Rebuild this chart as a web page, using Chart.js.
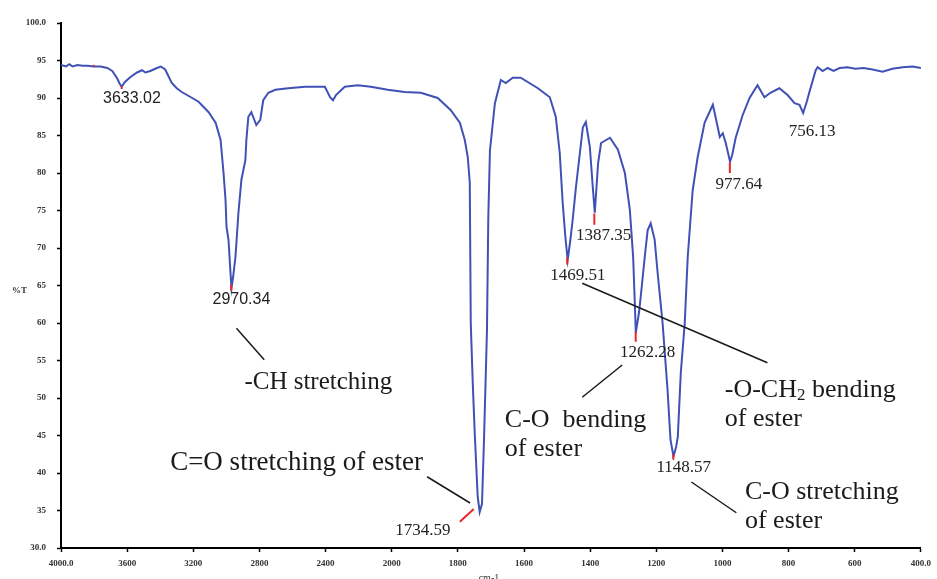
<!DOCTYPE html>
<html>
<head>
<meta charset="utf-8">
<script src="https://cdn.jsdelivr.net/npm/chart.js@4.4.1/dist/chart.umd.min.js"></script>
<style>
  body { margin: 0; background: #fff; }
  #wrap { width: 937px; height: 579px; }
</style>
</head>
<body>
<div id="wrap"><canvas id="irChart" width="937" height="579"></canvas></div>
<script>
// FTIR spectrum, wavenumber (cm-1) vs %T
var wavenumber = [
  4000, 3970, 3950, 3930, 3900, 3870, 3840, 3800, 3760, 3720,
  3690, 3660, 3645, 3633, 3615, 3580, 3540, 3510, 3490, 3460,
  3420, 3396, 3370, 3330, 3300, 3270, 3230, 3168, 3107, 3089,
  3065, 3035, 3017, 3005, 2999, 2987, 2975, 2969, 2960, 2945,
  2927, 2909, 2885, 2879, 2867, 2849, 2819, 2795, 2777, 2746,
  2704, 2626, 2524, 2404, 2373, 2355, 2337, 2284, 2205, 2127,
  2024, 1961, 1912, 1861, 1822, 1794, 1779, 1770, 1764, 1761,
  1755, 1749, 1740, 1734, 1727, 1721, 1712, 1708, 1703, 1688,
  1670, 1655, 1634, 1610, 1558, 1522, 1504, 1492, 1483, 1475,
  1468, 1460, 1453, 1443, 1431, 1422, 1413, 1401, 1392, 1386,
  1376, 1367, 1340, 1316, 1295, 1280, 1270, 1265, 1262, 1252,
  1245, 1235, 1226, 1217, 1205, 1196, 1181, 1166, 1157, 1148,
  1140, 1135, 1126, 1114, 1105, 1090, 1075, 1054, 1029, 1021,
  1008, 999, 990, 977, 970, 960, 939, 918, 894, 873,
  855, 828, 803, 782, 767, 756, 745, 737, 718, 712,
  697, 682, 664, 646, 622, 598, 573, 546, 516, 486,
  455, 425, 400
];
var transmittance = [
  94.4, 94.2, 94.5, 94.2, 94.4, 94.3, 94.3, 94.2, 94.2, 94.0,
  93.6, 92.6, 91.9, 91.5, 92.1, 92.8, 93.4, 93.7, 93.4, 93.6,
  94.0, 94.2, 93.8, 92.0, 91.3, 90.8, 90.3, 89.5, 88.1, 87.5,
  86.7, 84.4, 80.0, 76.4, 72.8, 71.1, 66.7, 64.7, 66.0, 68.8,
  74.7, 79.1, 81.7, 84.4, 87.5, 88.1, 86.4, 87.1, 89.7, 90.7,
  91.1, 91.3, 91.5, 91.5, 90.1, 89.7, 90.4, 91.5, 91.7, 91.5,
  91.1, 90.8, 90.7, 90.0, 88.4, 86.7, 84.4, 82.1, 78.7, 60.0,
  52.0, 45.3, 36.8, 34.8, 35.9, 44.4, 59.0, 74.0, 83.0, 89.3,
  92.4, 92.0, 92.7, 92.7, 91.3, 90.1, 87.5, 82.7, 76.0, 71.5,
  68.4, 71.0, 73.7, 78.1, 82.7, 86.1, 86.8, 83.5, 78.1, 74.7,
  81.3, 84.0, 84.7, 83.1, 80.0, 75.1, 68.8, 62.7, 58.7, 61.5,
  64.4, 68.8, 72.4, 73.3, 71.1, 66.7, 60.0, 51.1, 44.4, 42.2,
  43.5, 44.8, 53.3, 60.0, 68.8, 77.7, 82.1, 86.7, 89.1, 87.5,
  84.8, 85.3, 84.0, 81.5, 82.5, 84.7, 87.7, 90.0, 91.7, 90.1,
  90.7, 91.3, 90.4, 89.3, 89.1, 88.0, 89.5, 90.8, 93.7, 94.1,
  93.6, 94.0, 93.6, 94.0, 94.1, 93.9, 94.0, 93.8, 93.5, 93.9,
  94.1, 94.2, 94.0
];

// x tick positions (wavenumber), y range
var xTickWave = [4000, 3600, 3200, 2800, 2400, 2000, 1800, 1600, 1400, 1200, 1000, 800, 600, 400];
var yMin = 30, yMax = 100, yStep = 5;

// labelled peaks
var peakWave = [3633.02, 2970.34, 1734.59, 1469.51, 1387.35, 1262.28, 1148.57, 977.64, 756.13];

// band assignments
var bandText = [
  ["-CH stretching"],
  ["C=O stretching of ester"],
  ["-O-CH_2 bending", "of ester"],
  ["C-O  bending", "of ester"],
  ["C-O stretching", "of ester"]
];

// axis has a scale change at 2000 cm-1 (400 per division above, 200 below)
function toAxis(w) {
  return w >= 2000 ? (4000 - w) / 400 : 5 + (2000 - w) / 200;
}
function fromAxis(u) {
  return u <= 5 ? 4000 - 400 * u : 2000 - 200 * (u - 5);
}

var points = wavenumber.map(function (w, i) {
  return { x: toAxis(w), y: transmittance[i] };
});

// where the annotation text/lines sit, in (wavenumber, %T)
var layout = {
  peakLabel: [[3571, 89.9], [2909, 63.1], [1906, 32.3], [1437, 66.3], [1359, 71.7],
              [1226, 56.1], [1117, 40.7], [950, 78.4], [729, 85.5]],
  peakSans: [true, true, false, false, false, false, false, false, false],
  redMark: [
    [[3806, 94.3], [3796, 94.3]],
    [[3633, 91.6], [3633, 91.2]],
    [[2970.34, 65.1], [2970.34, 64.3]],
    [[1752, 35.2], [1794, 33.5]],
    [[1469.51, 68.7], [1469.51, 67.8]],
    [[1387.35, 74.6], [1387.35, 73.1]],
    [[1262.28, 58.8], [1262.28, 57.5]],
    [[1148.57, 42.5], [1148.57, 41.8]],
    [[977.64, 81.4], [977.64, 80.0]]
  ],
  bandPos: [[2891, 52.1], [3340, 41.4], [993, 51.1], [1658, 47.1], [932, 37.5]],
  bandSize: [25, 27, 26, 26, 26],
  leader: [
    [[2939, 59.3], [2771, 55.1]],
    [[1893, 39.5], [1763, 36.0]],
    [[1424, 65.3], [864, 54.7]],
    [[1303, 54.4], [1424, 50.1]],
    [[1094, 38.8], [958, 34.7]]
  ]
};

function drawSubText(ctx, str, x, y, size) {
  // "_2" -> subscript 2
  var parts = str.split("_");
  var cx = x;
  parts.forEach(function (p, i) {
    if (i > 0) {
      ctx.font = Math.round(size * 0.65) + 'px "Liberation Serif"';
      ctx.fillText(p.charAt(0), cx, y + size * 0.22);
      cx += ctx.measureText(p.charAt(0)).width;
      p = p.slice(1);
    }
    ctx.font = size + 'px "Liberation Serif"';
    ctx.fillText(p, cx, y);
    cx += ctx.measureText(p).width;
  });
}

var annotatePlugin = {
  id: 'annotate',
  afterDatasetsDraw: function (chart) {
    var ctx = chart.ctx;
    var xs = chart.scales.x, ys = chart.scales.y;
    function px(w) { return xs.getPixelForValue(toAxis(w)); }
    function py(t) { return ys.getPixelForValue(t); }
    ctx.save();

    // red peak marks
    ctx.strokeStyle = '#e8262b';
    ctx.lineWidth = 2;
    layout.redMark.forEach(function (m) {
      ctx.beginPath();
      ctx.moveTo(px(m[0][0]), py(m[0][1]));
      ctx.lineTo(px(m[1][0]), py(m[1][1]));
      ctx.stroke();
    });

    // peak numbers
    ctx.fillStyle = '#222';
    ctx.textAlign = 'center';
    ctx.textBaseline = 'middle';
    peakWave.forEach(function (w, i) {
      var p = layout.peakLabel[i];
      ctx.font = layout.peakSans[i] ? '16px "Liberation Sans"' : '17px "Liberation Serif"';
      ctx.fillText(w.toFixed(2), px(p[0]), py(p[1]));
    });

    // leader lines
    ctx.strokeStyle = '#1a1a1a';
    ctx.lineWidth = 1.5;
    layout.leader.forEach(function (l) {
      ctx.beginPath();
      ctx.moveTo(px(l[0][0]), py(l[0][1]));
      ctx.lineTo(px(l[1][0]), py(l[1][1]));
      ctx.stroke();
    });

    // band text
    ctx.textAlign = 'left';
    ctx.fillStyle = '#1a1a1a';
    bandText.forEach(function (lines, i) {
      var p = layout.bandPos[i];
      lines.forEach(function (s, j) {
        drawSubText(ctx, s, px(p[0]), py(p[1]) + j * 29, layout.bandSize[i]);
      });
    });

    // axis captions
    ctx.fillStyle = '#333';
    ctx.font = 'bold 9px "Liberation Serif"';
    ctx.textAlign = 'left';
    ctx.fillText('%T', chart.chartArea.left - 49, py(64.3));
    ctx.textAlign = 'center';
    ctx.textBaseline = 'alphabetic';
    ctx.font = '10px "Liberation Serif"';
    ctx.fillText('cm-1', (chart.chartArea.left + chart.chartArea.right) / 2 - 2, chart.height + 2);
    ctx.restore();
  }
};

var tickFont = { family: '"Liberation Serif"', size: 9, weight: 'bold' };

new Chart(document.getElementById('irChart').getContext('2d'), {
  type: 'line',
  data: {
    datasets: [{
      data: points,
      borderColor: '#4051b5',
      borderWidth: 2,
      pointRadius: 0,
      tension: 0,
      fill: false
    }]
  },
  options: {
    responsive: false,
    animation: false,
    layout: { padding: { top: 23, right: 14, left: 0, bottom: 0 } },
    plugins: { legend: { display: false }, tooltip: { enabled: false } },
    scales: {
      x: {
        type: 'linear',
        min: 0,
        max: xTickWave.length - 1,
        afterBuildTicks: function (scale) {
          scale.ticks = xTickWave.map(function (w) { return { value: toAxis(w) }; });
        },
        ticks: {
          autoSkip: false,
          maxRotation: 0,
          padding: 6,
          color: '#333',
          font: tickFont,
          callback: function (v) {
            var w = Math.round(fromAxis(v));
            return (w === 4000 || w === 400) ? w.toFixed(1) : String(w);
          }
        },
        grid: { drawOnChartArea: false, tickLength: 4, tickColor: '#000', tickWidth: 1.5 },
        border: { color: '#000', width: 2 },
        afterFit: function (s) { s.height = 31; }
      },
      y: {
        min: yMin,
        max: yMax,
        ticks: {
          stepSize: yStep,
          padding: 11,
          color: '#333',
          font: tickFont,
          callback: function (v) {
            return (v === yMin || v === yMax) ? v.toFixed(1) : String(v);
          }
        },
        grid: { drawOnChartArea: false, tickLength: 4, tickColor: '#000', tickWidth: 1.5 },
        border: { color: '#000', width: 2 },
        afterFit: function (s) { s.width = 61; }
      }
    }
  },
  plugins: [annotatePlugin]
});
</script>
</body>
</html>
